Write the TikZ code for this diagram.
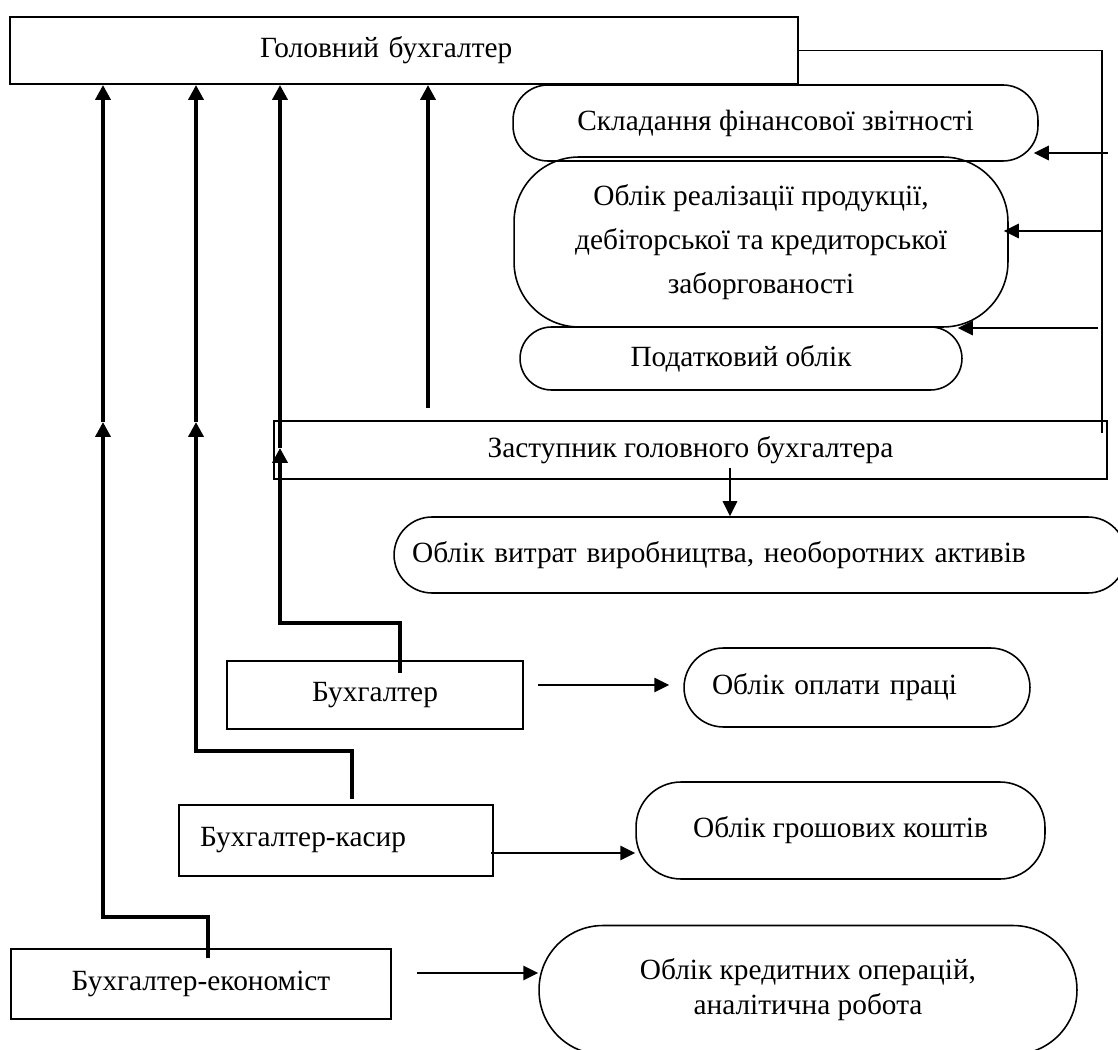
\documentclass[tikz,border=0pt]{standalone}
\usepackage{fontspec}
\setmainfont{Liberation Serif}
\usetikzlibrary{arrows.meta}

\begin{document}
\begin{tikzpicture}[x=0.02cm, y=-0.02cm,
    every node/.style={font=\fontsize{16.7}{20}\selectfont},
    post/.style={draw, line width=1.1pt, inner sep=0pt},
    task/.style={draw, line width=0.9pt, inner sep=0pt, align=center},
    link/.style={line width=2.2pt},
    up/.style={link, -{Triangle[length=0.3cm, width=0.3cm]}},
    arr/.style={line width=1.6pt, -{Triangle[length=0.3cm, width=0.28cm]}}]
    \path[clip, use as bounding box] (0,0) rectangle (1118,1050);

    \node [post, minimum height=1.34cm, text width=5.76cm, inner xsep=5cm, align=left] (head) at (404,50.5) {Головний бухгалтер};
    \node [task, rounded corners=0.7cm, minimum width=10.5cm, minimum height=1.52cm] (fin) at (775.5,123) {Складання фінансової звітності};
    \node [task, rounded corners=1.3cm, minimum width=9.88cm, minimum height=3.4cm] (sales) at (761,242) {Облік реалізації продукції,\\[5pt] дебіторської та кредиторської\\[5pt] заборгованості};
    \node [task, rounded corners=0.63cm, minimum width=8.84cm, minimum height=1.26cm] (tax) at (741,358.5) {Податковий облік};
    \node [post, minimum width=16.66cm, minimum height=1.16cm] (deputy) at (690.5,450) {Заступник головного бухгалтера};
    \node [task, rounded corners=0.76cm, minimum height=1.52cm, text width=13.92cm, inner xsep=0.36cm, align=left] (cost) at (760,555) {Облік витрат виробництва, необоротних активів};
    \node [post, minimum width=5.92cm, minimum height=1.36cm] (buh) at (375,695) {Бухгалтер};
    \node [task, rounded corners=0.79cm, minimum height=1.58cm, text width=5.8cm, inner xsep=0.56cm, align=left] (pay) at (857,687.5) {Облік оплати праці};
    \node [post, minimum height=1.42cm, text width=5.44cm, inner xsep=0.42cm, align=left] (kasir) at (336,840.5) {Бухгалтер-касир};
    \node [task, rounded corners=0.9cm, minimum width=8.18cm, minimum height=1.94cm] (cash) at (840.5,830.5) {Облік грошових коштів};
    \node [post, minimum width=7.6cm, minimum height=1.4cm] (econ) at (201,984) {Бухгалтер-економіст};
    \node [task, rounded corners=1.28cm, minimum width=10.76cm, minimum height=2.58cm] (credit) at (808,990) {Облік кредитних операцій,\\ аналітична робота};

    \coordinate (rl) at (1102,433);
    \coordinate (r1) at (1108,153);
    \coordinate (r2) at (1102,231);
    \coordinate (r3) at (1098,328);
    \draw [line width=1.1pt] (head.east) -| (rl);
    \draw [arr] (r1) -- ([xshift=-0.1cm]r1 -| fin.east);
    \draw [arr] (r2) -- ([xshift=-0.1cm]r2 -| sales.east);
    \draw [arr] (r3) -- ([xshift=-0.1cm]r3 -| tax.east);

    \coordinate (d1) at (428,408);
    \coordinate (d2) at (730,468);
    \draw [up] (d1) -- (d1 |- head.south);
    \draw [arr] (d2) -- (d2 |- cost.north);

    \coordinate (b1) at (400,673);
    \coordinate (b2) at (280,623);
    \coordinate (b3) at (280,448);
    \draw [up] (b1) |- (b2) -- (b3);
    \draw [up] (b3) -- (b3 |- head.south);

    \coordinate (k1) at (352,799);
    \coordinate (k2) at (196,751);
    \coordinate (k3) at (196,422);
    \draw [up] (k1) |- (k2) -- (k3);
    \draw [up] (k3) -- (k3 |- head.south);

    \coordinate (e1) at (208,958);
    \coordinate (e2) at (103,917);
    \coordinate (e3) at (103,422);
    \draw [up] (e1) |- (e2) -- (e3);
    \draw [up] (e3) -- (e3 |- head.south);

    \coordinate (p1) at (538,685);
    \coordinate (c1) at (491,853);
    \coordinate (e5) at (417,973);
    \draw [arr] (p1) -- ([xshift=-0.28cm]p1 -| pay.west);
    \draw [arr] (c1) -- (c1 -| cash.west);
    \draw [arr] (e5) -- (e5 -| credit.west);
\end{tikzpicture}
\end{document}
